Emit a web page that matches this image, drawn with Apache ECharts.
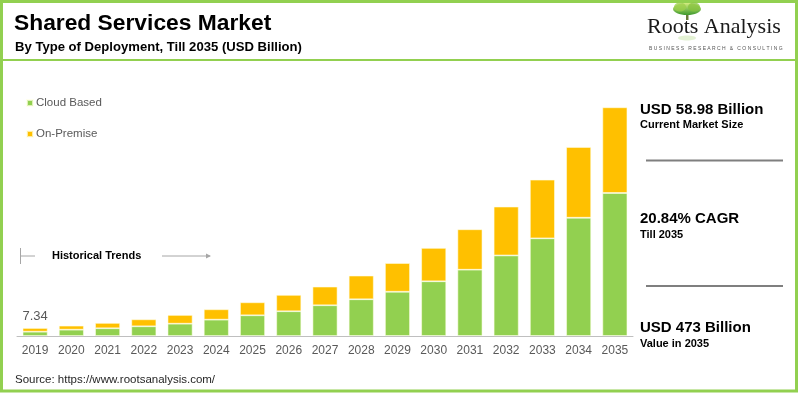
<!DOCTYPE html>
<html>
<head>
<meta charset="utf-8">
<script src="https://cdn.jsdelivr.net/npm/echarts@6/dist/echarts.min.js"></script>
<style>
html,body{margin:0;padding:0;background:#fff;}
#chart{width:800px;height:393px;}
</style>
</head>
<body>
<div id="chart"></div>
<script>
var years = ['2019','2020','2021','2022','2023','2024','2025','2026','2027','2028','2029','2030','2031','2032','2033','2034','2035'];
var cloudBased = [3.95, 5.8, 7.1, 8.9, 11.3, 15.0, 19.0, 22.7, 28.2, 33.7, 40.6, 50.2, 60.8, 73.9, 89.6, 108.5, 131.2];
var onPremise  = [3.39, 3.7, 4.9, 6.4, 8.0, 9.5, 11.9, 15.0, 17.1, 21.7, 26.3, 30.6, 37.1, 44.8, 53.8, 64.9, 78.6];
var firstLabel = '7.34';

var FONT = '"Liberation Sans", Arial, sans-serif';
var GREEN = '#92D050', ORANGE = '#FFC000';

var chart = echarts.init(document.getElementById('chart'), null, {renderer:'canvas'});

var onPremData = onPremise.map(function(v, i){
  if (i === 0) {
    return {value: v, label: {show: true, position: 'top', distance: 5, formatter: firstLabel,
      color: '#595959', fontSize: 13, fontFamily: FONT}};
  }
  return v;
});

function txt(x, y, text, size, weight, color, extra){
  var s = {x: x, y: y, text: text, fontSize: size, fontWeight: weight || 'normal',
    fontFamily: FONT, fill: color || '#000', verticalAlign: 'middle', align: 'left'};
  if (extra) for (var k in extra) s[k] = extra[k];
  return {type: 'text', style: s, silent: true};
}

var option = {
  animation: false,
  backgroundColor: '#fff',
  grid: {left: 17, right: 167, top: 100, bottom: 57},
  legend: {
    orient: 'vertical', left: 21, top: 92, icon: 'rect', itemWidth: 6, itemHeight: 6,
    itemGap: 19, data: ['Cloud Based', 'On-Premise'],
    textStyle: {color: '#595959', fontSize: 11.5, fontFamily: FONT, padding: [0,0,0,-2]}
  },
  xAxis: {
    type: 'category', data: years,
    axisLine: {lineStyle: {color: '#BFBFBF', width: 1}},
    axisTick: {show: false},
    axisLabel: {color: '#595959', fontSize: 12, fontFamily: FONT, margin: 9}
  },
  yAxis: {type: 'value', min: 0, max: 216.5, show: false, splitLine: {show: false}},
  series: [
    {name: 'Cloud Based', type: 'bar', stack: 'total', barWidth: 25, data: cloudBased,
      itemStyle: {color: GREEN, borderColor: 'rgba(255,255,230,0.7)', borderWidth: 0.8}},
    {name: 'On-Premise', type: 'bar', stack: 'total', barWidth: 25, data: onPremData,
      itemStyle: {color: ORANGE, borderColor: 'rgba(255,255,230,0.7)', borderWidth: 0.8}}
  ],
  graphic: [
    // frame
    {type: 'rect', shape: {x: 1.5, y: 1.5, width: 795, height: 389.5}, style: {fill: 'none', stroke: GREEN, lineWidth: 3}, silent: true},
    {type: 'line', shape: {x1: 3, y1: 60, x2: 796, y2: 60}, style: {stroke: GREEN, lineWidth: 2}, silent: true},
    // titles
    txt(14, 24, 'Shared Services Market', 22.8, 'bold', '#000'),
    txt(15, 47.5, 'By Type of Deployment, Till 2035 (USD Billion)', 13.1, 'bold', '#000'),
    // logo tree
    {type: 'ellipse', shape: {cx: 687, cy: 38, rx: 9, ry: 2.5}, style: {fill: '#dcedc8', opacity: 0.8}, silent: true},
    {type: 'rect', shape: {x: 686, y: 10, width: 2.5, height: 10}, style: {fill: '#6a7a3a'}, silent: true},
    {type: 'ellipse', shape: {cx: 687, cy: 9, rx: 14, ry: 6},
      style: {fill: new echarts.graphic.LinearGradient(0,0,0,1,[{offset:0,color:'#d4ec80'},{offset:1,color:'#3f9a2e'}])}, silent: true},
    {type: 'ellipse', shape: {cx: 680, cy: 7, rx: 6, ry: 4.5}, style: {fill: '#9ccf4a', opacity: 0.75}, silent: true},
    {type: 'ellipse', shape: {cx: 694, cy: 7, rx: 6, ry: 4.5}, style: {fill: '#86c23e', opacity: 0.75}, silent: true},
    {type: 'text', style: {x: 647, y: 27, text: 'Roots Analysis', fontSize: 22, fontFamily: '"Liberation Serif", "Times New Roman", serif',
      fill: '#1a1a1a', verticalAlign: 'middle', align: 'left'}, silent: true},
    {type: 'text', style: {x: 649, y: 49, text: 'B U S I N E S S   R E S E A R C H   &   C O N S U L T I N G', fontSize: 5, fontFamily: FONT,
      fill: '#555', verticalAlign: 'middle', align: 'left'}, silent: true},
    // historical trends
    {type: 'line', shape: {x1: 20.5, y1: 248, x2: 20.5, y2: 264}, style: {stroke: '#A6A6A6', lineWidth: 1}, silent: true},
    {type: 'line', shape: {x1: 20.5, y1: 256, x2: 35, y2: 256}, style: {stroke: '#A6A6A6', lineWidth: 1}, silent: true},
    txt(52, 256, 'Historical Trends', 11, 'bold', '#000'),
    {type: 'line', shape: {x1: 162, y1: 256, x2: 210, y2: 256}, style: {stroke: '#A6A6A6', lineWidth: 1}, silent: true},
    {type: 'polygon', shape: {points: [[211, 256], [206, 253.5], [206, 258.5]]}, style: {fill: '#A6A6A6'}, silent: true},
    // right panel
    txt(640, 110, 'USD 58.98 Billion', 15, 'bold', '#000'),
    txt(640, 125, 'Current Market Size', 11, 'bold', '#000'),
    {type: 'line', shape: {x1: 646, y1: 160.5, x2: 783, y2: 160.5}, style: {stroke: '#7F7F7F', lineWidth: 2}, silent: true},
    txt(640, 218.5, '20.84% CAGR', 15, 'bold', '#000'),
    txt(640, 234.5, 'Till 2035', 11, 'bold', '#000'),
    {type: 'line', shape: {x1: 646, y1: 286, x2: 783, y2: 286}, style: {stroke: '#7F7F7F', lineWidth: 2}, silent: true},
    txt(640, 328, 'USD 473 Billion', 15, 'bold', '#000'),
    txt(640, 344, 'Value in 2035', 11, 'bold', '#000'),
    // source
    txt(15, 379.5, 'Source: https://www.rootsanalysis.com/', 11.5, 'normal', '#262626')
  ]
};
chart.setOption(option);
</script>
</body>
</html>
